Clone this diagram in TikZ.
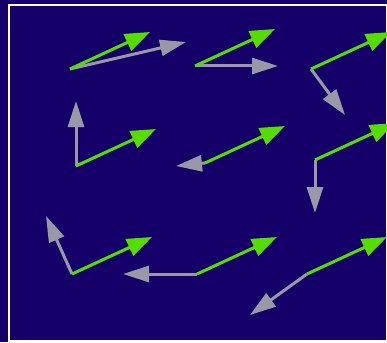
\documentclass[tikz,border=0pt]{standalone}
\usetikzlibrary{arrows.meta,calc}
\definecolor{navy}{RGB}{20,0,104}
\definecolor{vgreen}{RGB}{85,221,0}
\definecolor{vgray}{RGB}{152,152,166}
\begin{document}
\begin{tikzpicture}[x=1pt,y=-1pt,
  greenvec/.style={draw=vgreen,line width=3pt,-{Triangle[length=25pt,width=18pt]},fill=vgreen},
  grayvec/.style={draw=vgray,line width=3pt,-{Triangle[length=26pt,width=16pt]},fill=vgray},
  frame/.style={draw=white,line width=2pt,fill=navy}]
\fill[navy] (0,0) rectangle (387,342);
\useasboundingbox (0,0) rectangle (387,342);
\begin{scope}
\clip (0,0) rectangle (387,342);
\draw[frame] (8.5,5.5) rectangle (386.8,341.3);
\end{scope}
% origins
\coordinate (o1) at (70,69);
\coordinate (o2) at (195,66);
\coordinate (o3) at (311,69);
\coordinate (o4) at (76,166);
\coordinate (o5) at (205,163);
\coordinate (o6) at (315,160);
\coordinate (o7) at (72,274);
\coordinate (o8) at (197,274);
\coordinate (o9) at (307,274);
% gray tips
\coordinate (g1) at (186,42);
\coordinate (g2) at (278,66);
\coordinate (g3) at (345,115);
\coordinate (g4) at (76,101);
\coordinate (g5) at (176,166);
\coordinate (g6) at (315,213);
\coordinate (g7) at (46,216);
\coordinate (g8) at (123,274);
\coordinate (g9) at (250,315);
% green tips
\foreach \i in {1,...,9} {
  \coordinate (t\i) at ($(o\i)+(80,-37)$);
}
\foreach \i in {1,...,9} {
  \draw[grayvec] (o\i) -- (g\i);
}
\foreach \i in {1,...,9} {
  \draw[greenvec] (o\i) -- (t\i);
}
\end{tikzpicture}
\end{document}
